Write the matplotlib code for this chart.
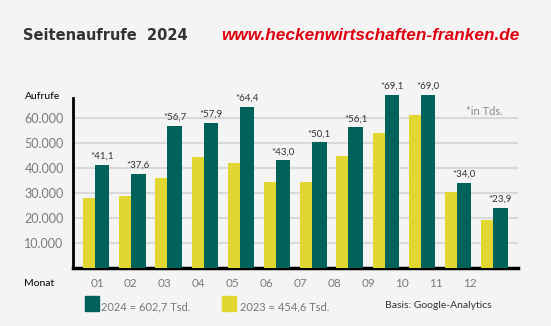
import numpy as np
import matplotlib
matplotlib.use("Agg")
import matplotlib.pyplot as plt
from matplotlib.patches import Rectangle

months = ["01", "02", "03", "04", "05", "06", "07", "08", "09", "10", "11", "12"]
views_2024 = [41.1, 37.6, 56.7, 57.9, 64.4, 43.0, 50.1, 56.1, 69.1, 69.0, 34.0, 23.9]
views_2023 = [28.0, 28.8, 35.9, 44.2, 41.8, 34.3, 34.3, 44.6, 53.9, 61.1, 30.2, 19.1]
yticks = [10, 20, 30, 40, 50, 60]
ytick_labels = ["10.000", "20.000", "30.000", "40.000", "50.000", "60.000"]
total_2024 = "602,7"
total_2023 = "454,6"

GREEN = "#00625a"
YELLOW = "#e2d631"
BG = "#f4f4f4"
FONT = "Lato"

fig = plt.figure(figsize=(5.51, 3.26), dpi=100, facecolor=BG)
ax = fig.add_axes([73 / 551, 58 / 326, 445 / 551, 180.5 / 326])
ax.set_facecolor(BG)

x = np.arange(len(months))
ax.bar(x, views_2023, width=-0.33, align="edge", color=YELLOW, zorder=3)
ax.bar(x, views_2024, width=0.40, align="edge", color=GREEN, zorder=3)

for xi, v in zip(x, views_2024):
    ax.text(xi + 0.2, v + 1.6, "*" + f"{v:.1f}".replace(".", ","),
            ha="center", va="bottom", fontsize=7, color="#333333", family=FONT)

ax.set_xlim(-0.608, 11.685)
ax.set_ylim(0, 72)

# gridlines
ax.set_yticks(yticks)
ax.set_yticklabels(ytick_labels, ha="left", fontsize=9, color="#7a7a7a", family=FONT)
ax.yaxis.grid(True, color="#d9d9d9", linewidth=1.5, zorder=0)
ax.tick_params(axis="y", length=0, pad=35)

ax.set_xticks(x * 0.936 + 0.055)
ax.set_xticklabels(months, fontsize=8.5, color="#7a7a7a", family=FONT)
ax.tick_params(axis="x", length=0, pad=7)

for s in ["top", "right"]:
    ax.spines[s].set_visible(False)
ax.spines["left"].set_linewidth(2)
ax.spines["left"].set_bounds(0, 67.7)
ax.spines["bottom"].set_linewidth(2.5)

ax.text(10.75, 60.3, "*in Tds.", fontsize=8, color="#8a8a8a", family=FONT, ha="center", va="bottom")

# titles
fig.text(23 / 551, 1 - 35 / 326, "Seitenaufrufe  2024", fontsize=10.5, fontweight="heavy",
         color="#333333", family="DejaVu Sans", va="center")
fig.text(520 / 551, 1 - 35 / 326, "www.heckenwirtschaften-franken.de", fontsize=12.4,
         fontweight="bold", style="italic", color="#e0000f", family="Liberation Sans",
         ha="right", va="center")

fig.text(25 / 551, 1 - 96 / 326, "Aufrufe", fontsize=7.5, color="black", family=FONT, va="center")
fig.text(24 / 551, 1 - 283 / 326, "Monat", fontsize=7.5, color="black", family=FONT, va="center")

# legend
fig.patches.append(Rectangle((85 / 551, 1 - 311 / 326), 14 / 551, 15 / 326,
                             transform=fig.transFigure, color=GREEN))
fig.text(101 / 551, 1 - 307 / 326, f"2024 = {total_2024} Tsd.", fontsize=8,
         color="#777777", family=FONT, va="center")
fig.patches.append(Rectangle((222 / 551, 1 - 311 / 326), 14 / 551, 15 / 326,
                             transform=fig.transFigure, color=YELLOW))
fig.text(240 / 551, 1 - 307 / 326, f"2023 = {total_2023} Tsd.", fontsize=8,
         color="#777777", family=FONT, va="center")
fig.text(492 / 551, 1 - 306 / 326, "Basis: Google-Analytics", fontsize=7.5,
         color="#333333", family=FONT, ha="right", va="center")

fig.savefig("out.png", dpi=100, facecolor=BG)
